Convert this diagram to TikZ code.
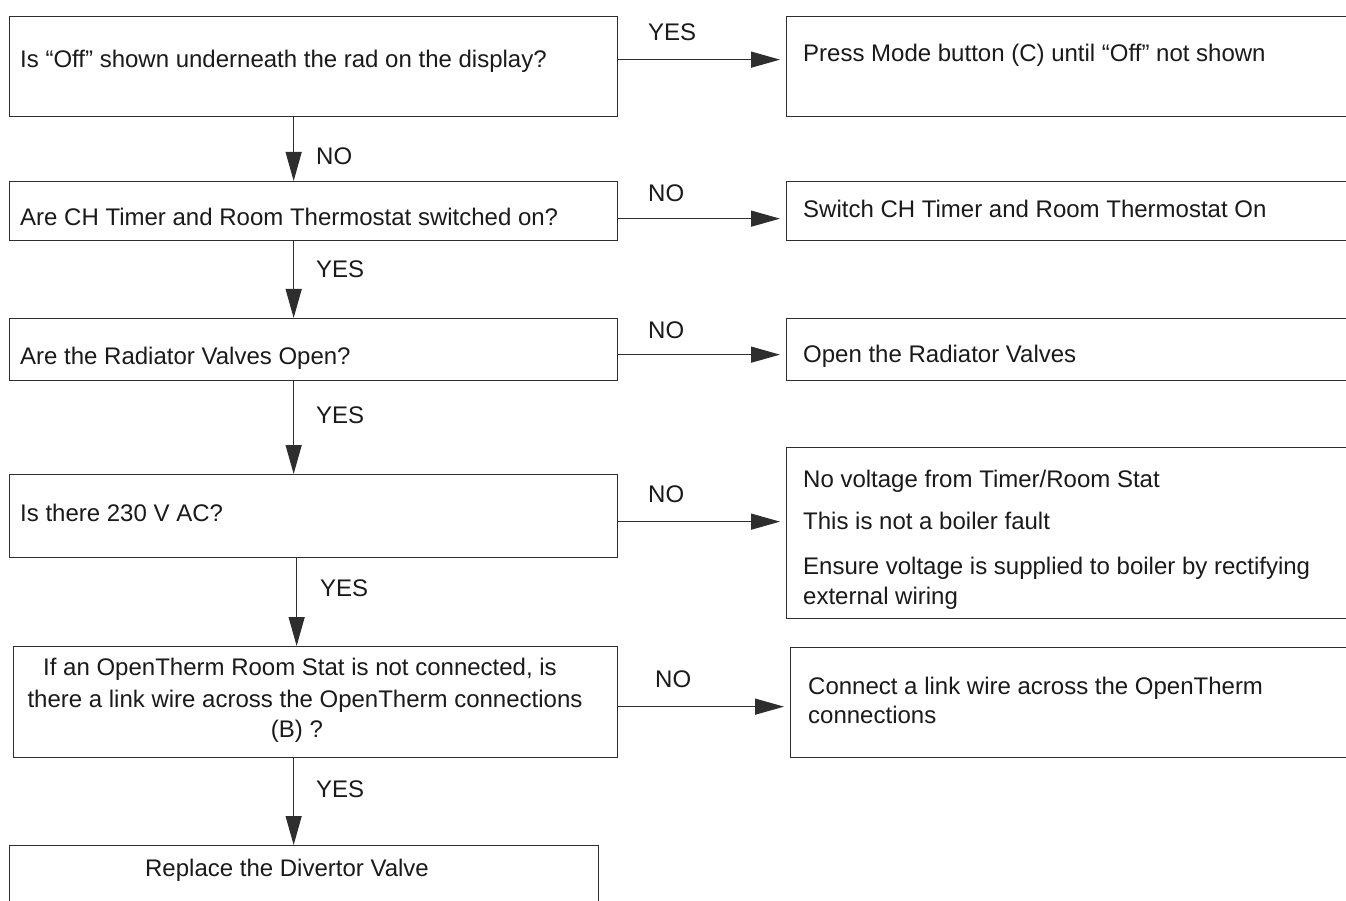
\documentclass[tikz,border=0pt]{standalone}
\usepackage{fontspec}
\setmainfont{Liberation Sans}
\usetikzlibrary{arrows.meta}
\definecolor{ln}{HTML}{2E2E2E}
\definecolor{tx}{HTML}{1A1A1A}
\begin{document}
\begin{tikzpicture}[x=1pt,y=-1pt,
  qbox/.style={draw=ln, line width=1.3pt, inner sep=0pt, anchor=north west},
  txt/.style={text=tx, inner sep=0pt, font=\fontsize{24pt}{30pt}\selectfont, anchor=base west},
  ctxt/.style={txt, anchor=base},
  arr/.style={draw=ln, line width=1.3pt, -{Triangle[length=29pt,width=16pt]}},
  harr/.style={arr, shorten >=6pt}]
\useasboundingbox (0,0) rectangle (1346,901);
\fill[white] (0,0) rectangle (1346,901);
\clip (0,0) rectangle (1346,901);
% left column boxes
\node[qbox, minimum width=608pt, minimum height=100pt] (q1) at (9,16) {};
\node[qbox, minimum width=608pt, minimum height=59pt] (q2) at (9,181) {};
\node[qbox, minimum width=608pt, minimum height=62pt] (q3) at (9,318) {};
\node[qbox, minimum width=608pt, minimum height=83pt] (q4) at (9,474) {};
\node[qbox, minimum width=604pt, minimum height=111pt] (q5) at (13,646) {};
\node[qbox, minimum width=589pt, minimum height=100pt] (q6) at (9,845) {};
% right column boxes
\node[qbox, minimum width=700pt, minimum height=100pt] (r1) at (786,16) {};
\node[qbox, minimum width=700pt, minimum height=59pt] (r2) at (786,181) {};
\node[qbox, minimum width=700pt, minimum height=62pt] (r3) at (786,318) {};
\node[qbox, minimum width=700pt, minimum height=171pt] (r4) at (786,447) {};
\node[qbox, minimum width=700pt, minimum height=110pt] (r5) at (790,647) {};
% texts
\node[txt] (t1) at (20,68) {Is “Off” shown underneath the rad on the display?};
\node[txt] (t2) at (20,226) {Are CH Timer and Room Thermostat switched on?};
\node[txt] (t3) at (20,364) {Are the Radiator Valves Open?};
\node[txt] (t4) at (20,521) {Is there 230 V AC?};
\node[ctxt] (t5a) at (300,675) {If an OpenTherm Room Stat is not connected, is};
\node[ctxt] (t5b) at (305,707) {there a link wire across the OpenTherm connections};
\node[ctxt] (t5c) at (297,737) {(B) ?};
\node[ctxt] (t6) at (287,876) {Replace the Divertor Valve};
\node[txt] (s1) at (803,62) {Press Mode button (C) until “Off” not shown};
\node[txt] (s2) at (803,218) {Switch CH Timer and Room Thermostat On};
\node[txt] (s3) at (803,362) {Open the Radiator Valves};
\node[txt] (s4a) at (803,487) {No voltage from Timer/Room Stat};
\node[txt] (s4b) at (803,529) {This is not a boiler fault};
\node[txt] (s4c) at (803,574) {Ensure voltage is supplied to boiler by rectifying};
\node[txt] (s4d) at (803,604) {external wiring};
\node[txt] (s5a) at (808,694) {Connect a link wire across the OpenTherm};
\node[txt] (s5b) at (808,723) {connections};
% connectors: horizontal
\draw[harr] ([yshift=7pt]q1.east) -- ([yshift=7pt]q1.east -| r1.west);
\draw[harr] ([yshift=-7.5pt]q2.east) -- ([yshift=-7.5pt]q2.east -| r2.west);
\draw[harr] ([yshift=-5pt]q3.east) -- ([yshift=-5pt]q3.east -| r3.west);
\draw[harr] ([yshift=-5.5pt]q4.east) -- ([yshift=-5.5pt]q4.east -| r4.west);
\draw[harr] ([yshift=-4.5pt]q5.east) -- ([yshift=-4.5pt]q5.east -| r5.west);
% connectors: vertical
\draw[arr] ([xshift=-20pt]q1.south) -- ([xshift=-20pt]q1.south |- q2.north);
\draw[arr] ([xshift=-20pt]q2.south) -- ([xshift=-20pt]q2.south |- q3.north);
\draw[arr] ([xshift=-20pt]q3.south) -- ([xshift=-20pt]q3.south |- q4.north);
\draw[arr] ([xshift=-17pt]q4.south) -- ([xshift=-17pt]q4.south |- q5.north);
\draw[arr] ([xshift=-22pt]q5.south) -- ([xshift=-22pt]q5.south |- q6.north);
% labels
\node[txt] (l1) at (648,41) {YES};
\node[txt] (l2) at (648,202) {NO};
\node[txt] (l3) at (648,338) {NO};
\node[txt] (l4) at (648,502) {NO};
\node[txt] (l5) at (655,687) {NO};
\node[txt] (d1) at (316,165) {NO};
\node[txt] (d2) at (316,278) {YES};
\node[txt] (d3) at (316,423) {YES};
\node[txt] (d4) at (320,596) {YES};
\node[txt] (d5) at (316,797) {YES};
\end{tikzpicture}
\end{document}
